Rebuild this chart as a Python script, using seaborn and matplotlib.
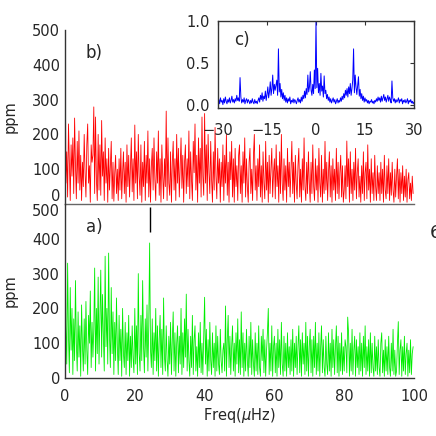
import seaborn as sns
import matplotlib.pyplot as plt
import numpy as np

# amplitude spectra (ppm), one value every 0.25 muHz from 0 to 99.75
step = 0.25
red_b = [
    600, 60, 150, 20, 230, 120, 10, 170, 80, 190, 30, 247, 110, 15, 180, 60, 210, 40, 140, 10,
    120, 50, 200, 90, 20, 170, 230, 60, 110, 5, 170, 120, 140, 279, 30, 250, 70, 10, 200, 40,
    170, 25, 240, 80, 150, 10, 190, 60, 130, 5, 160, 40, 110, 180, 15, 120, 8, 90, 140, 30,
    100, 10, 130, 40, 160, 15, 90, 150, 30, 120, 5, 170, 50, 140, 20, 110, 190, 35, 130, 10,
    227, 60, 150, 15, 200, 80, 25, 170, 5, 120, 50, 180, 10, 140, 60, 210, 20, 130, 5, 110,
    160, 40, 190, 70, 10, 150, 60, 210, 25, 130, 5, 170, 80, 15, 130, 50, 267, 10, 190, 60,
    25, 150, 5, 120, 180, 40, 130, 10, 200, 60, 160, 20, 110, 190, 45, 140, 5, 120, 170, 30,
    130, 50, 210, 15, 150, 70, 10, 180, 90, 230, 40, 140, 5, 190, 60, 160, 20, 250, 80, 25,
    260, 60, 170, 10, 200, 90, 30, 180, 70, 5, 150, 40, 220, 80, 15, 160, 60, 130, 5, 120,
    50, 170, 10, 140, 60, 200, 25, 120, 5, 150, 70, 180, 20, 130, 5, 160, 50, 110, 10, 140,
    170, 30, 110, 5, 150, 60, 190, 20, 130, 50, 5, 120, 160, 30, 100, 10, 140, 200, 40, 110,
    10, 130, 50, 170, 20, 110, 5, 150, 60, 15, 180, 40, 120, 5, 140, 30, 100, 160, 20, 90,
    130, 15, 170, 50, 110, 5, 150, 30, 200, 60, 10, 130, 40, 110, 5, 160, 50, 120, 20, 100,
    180, 30, 120, 5, 140, 60, 15, 110, 160, 20, 100, 5, 130, 40, 190, 50, 10, 120, 30, 150,
    60, 5, 120, 30, 170, 50, 10, 130, 40, 110, 5, 160, 60, 20, 140, 5, 100, 30, 180, 40,
    120, 10, 90, 150, 20, 110, 5, 130, 40, 100, 10, 160, 30, 120, 15, 90, 140, 20, 110, 5,
    40, 110, 15, 181, 50, 130, 5, 150, 30, 100, 10, 120, 40, 160, 15, 90, 130, 20, 80, 5,
    110, 30, 150, 10, 90, 120, 15, 170, 40, 100, 5, 130, 30, 90, 10, 140, 50, 10, 110, 30,
    90, 10, 120, 30, 100, 5, 140, 40, 15, 110, 30, 130, 10, 90, 25, 120, 40, 5, 100, 20,
    80, 130, 15, 100, 5, 90, 30, 110, 10, 80, 20, 100, 5, 70, 90, 15, 60, 10, 80, 30,
]
green_a = [
    600, 150, 40, 330, 120, 15, 260, 80, 200, 10, 170, 50, 280, 100, 20, 190, 60, 150, 5, 210,
    90, 20, 170, 40, 220, 80, 10, 180, 100, 250, 30, 160, 60, 140, 316, 20, 200, 70, 290, 40,
    170, 310, 60, 240, 120, 20, 350, 90, 200, 40, 359, 120, 30, 260, 70, 190, 10, 160, 50, 230,
    90, 10, 180, 50, 140, 5, 200, 70, 30, 160, 10, 130, 50, 180, 5, 120, 30, 150, 60, 15,
    200, 40, 150, 10, 300, 70, 20, 180, 50, 280, 90, 15, 170, 60, 210, 20, 150, 388, 80, 30,
    170, 10, 130, 50, 200, 20, 150, 5, 110, 180, 30, 140, 10, 230, 60, 20, 150, 50, 5, 120,
    40, 160, 10, 110, 190, 20, 130, 5, 100, 150, 15, 120, 40, 200, 10, 130, 30, 170, 60, 241,
    20, 140, 50, 5, 120, 30, 180, 10, 110, 150, 20, 90, 5, 130, 30, 160, 15, 100, 10, 120,
    232, 40, 140, 5, 110, 20, 160, 50, 10, 130, 30, 100, 5, 150, 20, 120, 40, 10, 140, 50,
    15, 80, 100, 20, 207, 5, 110, 180, 30, 120, 10, 90, 150, 20, 100, 5, 130, 40, 170, 15,
    110, 10, 190, 30, 130, 5, 100, 20, 140, 50, 5, 120, 30, 160, 10, 110, 40, 5, 130, 20,
    100, 10, 150, 30, 5, 120, 50, 140, 15, 110, 5, 80, 130, 200, 10, 100, 20, 150, 5, 90,
    120, 15, 100, 5, 140, 30, 110, 10, 160, 40, 5, 120, 20, 100, 5, 130, 30, 90, 10, 110,
    20, 140, 5, 100, 30, 120, 10, 90, 150, 15, 110, 5, 130, 40, 100, 10, 160, 20, 120, 5,
    90, 140, 15, 110, 5, 120, 30, 160, 10, 100, 20, 130, 5, 90, 150, 15, 110, 30, 5, 120,
    40, 10, 130, 20, 100, 5, 140, 30, 110, 10, 90, 150, 15, 120, 5, 100, 20, 130, 10, 90,
    20, 110, 90, 15, 175, 130, 5, 100, 20, 140, 10, 80, 120, 5, 110, 30, 90, 10, 130, 20,
    100, 5, 120, 30, 150, 10, 90, 20, 110, 5, 130, 15, 100, 30, 5, 120, 20, 90, 10, 110,
    30, 5, 100, 130, 15, 80, 5, 110, 20, 90, 10, 120, 30, 5, 100, 20, 140, 10, 80, 5,
    20, 100, 162, 10, 80, 110, 5, 90, 20, 120, 10, 70, 100, 5, 80, 15, 110, 10, 70, 90,
]
freq = np.arange(len(red_b)) * step

# spectral window, -30 .. 30 muHz in 0.25 steps
window = [
    0.03, 0.07, 0.02, 0.09, 0.04, 0.06, 0.01, 0.08, 0.03, 0.10, 0.05, 0.02, 0.07, 0.04, 0.09, 0.03, 0.06, 0.11, 0.04, 0.07,
    0.03, 0.08, 0.05, 0.12, 0.06, 0.09, 0.05, 0.33, 0.10, 0.03, 0.07, 0.04, 0.09, 0.02, 0.06, 0.08, 0.03, 0.07, 0.05, 0.02,
    0.06, 0.03, 0.08, 0.04, 0.02, 0.07, 0.03, 0.05, 0.02, 0.06, 0.09, 0.04, 0.12, 0.07, 0.15, 0.05, 0.11, 0.08, 0.17, 0.06,
    0.13, 0.22, 0.09, 0.16, 0.28, 0.12, 0.20, 0.36, 0.14, 0.25, 0.18, 0.24, 0.30, 0.12, 0.67, 0.16, 0.26, 0.10, 0.19, 0.08,
    0.15, 0.06, 0.12, 0.04, 0.09, 0.03, 0.08, 0.05, 0.10, 0.02, 0.06, 0.04, 0.08, 0.03, 0.07, 0.05, 0.02, 0.06, 0.09, 0.04,
    0.07, 0.03, 0.10, 0.05, 0.12, 0.08, 0.17, 0.09, 0.20, 0.13, 0.36, 0.16, 0.22, 0.40, 0.18, 0.12, 0.25, 0.14, 0.42, 0.20,
    1.00, 0.21, 0.44, 0.15, 0.26, 0.12, 0.38, 0.17, 0.23, 0.10, 0.35, 0.14, 0.18, 0.08, 0.13, 0.06, 0.10, 0.04, 0.08, 0.03,
    0.06, 0.09, 0.04, 0.07, 0.02, 0.05, 0.08, 0.03, 0.06, 0.04, 0.09, 0.05, 0.11, 0.07, 0.14, 0.09, 0.18, 0.12, 0.20, 0.10,
    0.22, 0.14, 0.26, 0.12, 0.20, 0.30, 0.67, 0.15, 0.36, 0.22, 0.13, 0.24, 0.34, 0.11, 0.19, 0.08, 0.14, 0.06, 0.11, 0.04,
    0.09, 0.05, 0.07, 0.03, 0.06, 0.02, 0.05, 0.04, 0.07, 0.03, 0.05, 0.02, 0.06, 0.04, 0.08, 0.05, 0.10, 0.06, 0.09, 0.04,
    0.11, 0.05, 0.09, 0.13, 0.06, 0.10, 0.04, 0.08, 0.12, 0.05, 0.10, 0.07, 0.03, 0.29, 0.09, 0.05, 0.08, 0.03, 0.07, 0.04,
    0.06, 0.09, 0.03, 0.07, 0.05, 0.08, 0.02, 0.06, 0.04, 0.07, 0.03, 0.05, 0.08, 0.02, 0.06, 0.04, 0.07, 0.03, 0.05, 0.02,
    0.04,
]
win_freq = -30 + np.arange(len(window)) * step

# vertical marker in panel a)
marker_freq = 24.3
marker_lo, marker_hi = 420, 490

sns.set_style('white')
plt.rcParams['font.family'] = ['DejaVu Sans']
plt.rcParams['font.size'] = 10.5

W = 436.0
fig = plt.figure(figsize=(4.36, 4.36), dpi=100)
ax_b = fig.add_axes([65 / W, (436 - 204) / W, 349 / W, 174 / W])
ax_a = fig.add_axes([65 / W, (436 - 378) / W, 349 / W, 174 / W])
ax_c = fig.add_axes([218 / W, (436 - 108) / W, 196 / W, 87 / W])
ax_a.patch.set_visible(False)

sns.lineplot(x=freq, y=red_b, ax=ax_b, color='#ff0000', linewidth=0.6, estimator=None)
sns.lineplot(x=freq, y=green_a, ax=ax_a, color='#00ee00', linewidth=0.6, estimator=None)
sns.lineplot(x=win_freq, y=window, ax=ax_c, color='#0000ff', linewidth=0.7, estimator=None)
ax_a.vlines(marker_freq, marker_lo, marker_hi, color='black', linewidth=1)

for ax in (ax_a, ax_b):
    ax.set_xlim(0, 100)
    ax.set_ylim(0, 500)
    ax.set_yticks([0, 100, 200, 300, 400, 500])
    ax.set_yticks(np.arange(0, 501, 10), minor=True)
    ax.set_ylabel('ppm', labelpad=10)
    for s in ('top', 'right'):
        ax.spines[s].set_visible(False)
    for s in ('left', 'bottom'):
        ax.spines[s].set_color('#333333')
        ax.spines[s].set_linewidth(1)
    ax.tick_params(direction='in', length=5, width=0.8, color='#333333')
    ax.tick_params(which='minor', direction='in', length=3, width=0.6, color='#333333')

ax_b.set_xticks([])
ax_b.spines['bottom'].set_color('#666666')
ax_b.spines['bottom'].set_zorder(5)
ax_b.tick_params(axis='x', which='both', bottom=False, labelbottom=False)
ax_a.set_xticks([0, 20, 40, 60, 80, 100])
ax_a.set_xticks(np.arange(0, 101, 5), minor=True)
ax_a.set_xlabel(r'Freq($\mu$Hz)', labelpad=1)
ax_a.tick_params(axis='x', pad=8)

# keep the end labels of the stacked axes from colliding
fig.canvas.draw()
ax_b.get_yticklabels()[0].set_verticalalignment('bottom')
ax_a.get_yticklabels()[-1].set_verticalalignment('top')

ax_b.text(6, 420, 'b)', fontsize=12)
ax_a.text(6, 420, 'a)', fontsize=12)

ax_c.set_xlim(-30, 30)
ax_c.set_ylim(-0.03, 1.0)
ax_c.set_xticks([-30, -15, 0, 15, 30])
ax_c.set_yticks([0.0, 0.5, 1.0])
ax_c.set_yticklabels(['0.0', '0.5', '1.0'])
ax_c.tick_params(direction='in', length=3, top=True, right=True, pad=6, color='#333333')
ax_c.tick_params(axis='x', pad=11)
for s in ax_c.spines.values():
    s.set_color('#333333')
    s.set_linewidth(1)
ax_c.text(-25, 0.72, 'c)', fontsize=12)

fig.text(430 / W, 1 - 233 / W, '6', fontsize=13, va='center', ha='left')

fig.savefig('out.png', dpi=100)
